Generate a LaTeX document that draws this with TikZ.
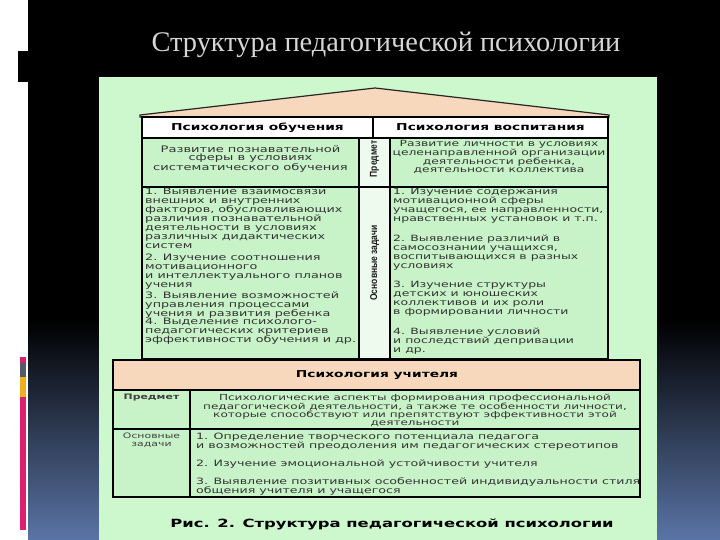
\documentclass[tikz,border=0pt]{standalone}
\usepackage{fontspec}
\setmainfont{DejaVu Sans}
\newfontfamily\titlefont{Liberation Serif}
\newfontfamily\cellfont[FakeStretch=1.45]{DejaVu Sans}
\newfontfamily\narrowfont[FakeStretch=0.85]{Liberation Sans}
\usetikzlibrary{positioning}

\definecolor{panelgreen}{RGB}{205,247,205}
\definecolor{cellgreen}{RGB}{200,242,200}
\definecolor{midwhite}{RGB}{238,250,238}
\definecolor{peach}{RGB}{248,216,188}
\definecolor{slatebg}{RGB}{90,116,165}
\definecolor{barpink}{RGB}{222,30,110}
\definecolor{bargray}{RGB}{80,92,105}
\definecolor{barorange}{RGB}{240,176,30}

\begin{document}
\begin{tikzpicture}[x=1pt, y=-1pt]
    \tikzset{
        cellbox/.style={draw=black, line width=1.6pt, line join=miter},
        hdtext/.style={font=\cellfont\bfseries\fontsize{9.5}{9.5}\selectfont, text=black, inner sep=0pt},
        subjtext/.style={font=\cellfont\fontsize{9}{8.5}\selectfont, text=black!80, align=center, inner sep=0pt},
        tasktext/.style={font=\cellfont\fontsize{8.8}{9}\selectfont, text=black!80, align=left, inner sep=0pt, anchor=north west},
        sidetext/.style={font=\narrowfont\bfseries\fontsize{10}{10}\selectfont, text=black!90, rotate=90, inner sep=0pt},
        rowlabel/.style={font=\cellfont\fontsize{7.5}{8.5}\selectfont, text=black!75, align=center, inner sep=0pt, anchor=north},
    }
    \useasboundingbox (0,0) rectangle (720,540);

    % slide background
    \fill[white] (0,0) rectangle (720,540);
    \fill[black] (28,0) rectangle (720,320);
    \shade[top color=black, bottom color=slatebg] (28,320) rectangle (720,540);
    \fill[black] (18,51) rectangle (28,82);
    \fill[barpink] (20,357) rectangle (26,363);
    \fill[bargray] (20,363) rectangle (26,377);
    \fill[barorange] (20,377) rectangle (26,397);
    \fill[barpink] (20,397) rectangle (26,530);

    \node[font=\titlefont\fontsize{28.4}{28.4}\selectfont, text=black!16, anchor=base, inner sep=0pt] (title) at (386,52) {Структура педагогической психологии};

    % green sheet
    \fill[panelgreen] (99,77) rectangle (657,540);

    % roof and upper table
    \filldraw[fill=peach, draw=black!85, line width=1.2pt] (140,117) -- (140,115) -- (375,88) -- (609,115) -- (609,117) -- cycle;
    \filldraw[cellbox, fill=white] (142,117) rectangle (373,138);
    \filldraw[cellbox, fill=white] (373,117) rectangle (608,138);
    \filldraw[cellbox, fill=cellgreen] (142,138) rectangle (359,187);
    \filldraw[cellbox, fill=midwhite] (359,138) rectangle (390,187);
    \filldraw[cellbox, fill=cellgreen] (390,138) rectangle (608,187);
    \filldraw[cellbox, fill=cellgreen] (142,187) rectangle (359,359);
    \filldraw[cellbox, fill=midwhite] (359,187) rectangle (390,359);
    \filldraw[cellbox, fill=cellgreen] (390,187) rectangle (608,359);

    \node[hdtext] (hlearn) at (257.5,127.5) {Психология обучения};
    \node[hdtext] (hraise) at (490.5,127.5) {Психология воспитания};

    \node[subjtext] (lsubj) at (250.5,159) {Развитие познавательной\\сферы в условиях\\систематического обучения};
    \node[subjtext, font=\cellfont\fontsize{8.5}{7.8}\selectfont] (rsubj) at (499,157) {Развитие личности в условиях\\целенаправленной организации\\деятельности ребенка,\\деятельности коллектива};

    \node[sidetext] (subj) at (374.5,159) {Предмет};
    \node[sidetext] (tasks) at (374.5,263) {Основные задачи};

    \node[tasktext] (ltask1) at (145,187.5) {1. Выявление взаимосвязи\\внешних и внутренних\\факторов, обусловливающих\\различия познавательной\\деятельности в условиях\\различных дидактических\\систем};
    \node[tasktext] (ltask2) at (145,253.5) {2. Изучение соотношения\\мотивационного\\и интеллектуального планов\\учения};
    \node[tasktext] (ltask3) at (145,291.5) {3. Выявление возможностей\\управления процессами\\учения и развития ребенка};
    \node[tasktext] (ltask4) at (145,317.5) {4. Выделение психолого-\\педагогических критериев\\эффективности обучения и др.};

    \tikzset{tasktext/.append style={font=\cellfont\fontsize{8.6}{9}\selectfont}}
    \node[tasktext] (rtask1) at (393,188.5) {1. Изучение содержания\\мотивационной сферы\\учащегося, ее направленности,\\нравственных установок и т.п.};
    \node[tasktext] (rtask2) at (393,234.5) {2. Выявление различий в\\самосознании учащихся,\\воспитывающихся в разных\\условиях};
    \node[tasktext] (rtask3) at (393,280.5) {3. Изучение структуры\\детских и юношеских\\коллективов и их роли\\в формировании личности};
    \node[tasktext] (rtask4) at (393,327.5) {4. Выявление условий\\и последствий депривации\\и др.};

    % lower table
    \filldraw[cellbox, fill=peach] (113,360) rectangle (640,390);
    \filldraw[cellbox, fill=cellgreen] (113,390) rectangle (190,429);
    \filldraw[cellbox, fill=cellgreen] (190,390) rectangle (640,429);
    \filldraw[cellbox, fill=cellgreen] (113,429) rectangle (190,497);
    \filldraw[cellbox, fill=cellgreen] (190,429) rectangle (640,497);

    \node[hdtext] (hteach) at (377,375.5) {Психология учителя};
    \node[rowlabel, font=\cellfont\bfseries\fontsize{7.5}{8.5}\selectfont] (tsubjlbl) at (151.5,394) {Предмет};
    \node[rowlabel] (ttasklbl) at (151.5,432.5) {Основные\\задачи};

    \node[subjtext, font=\cellfont\fontsize{8.3}{8}\selectfont, anchor=north] (tsubj) at (415,393.5) {Психологические аспекты формирования профессиональной\\педагогической деятельности, а также те особенности личности,\\которые способствуют или препятствуют эффективности этой\\деятельности};
    \tikzset{tasktext/.append style={font=\cellfont\fontsize{8.7}{9}\selectfont}}
    \node[tasktext] (ttask1) at (196,432.5) {1. Определение творческого потенциала педагога\\и возможностей преодоления им педагогических стереотипов};
    \node[tasktext] (ttask2) at (196,459.5) {2. Изучение эмоциональной устойчивости учителя};
    \node[tasktext] (ttask3) at (196,477.5) {3. Выявление позитивных особенностей индивидуальности стиля\\общения учителя и учащегося};

    \node[hdtext, font=\cellfont\bfseries\fontsize{11.3}{11.3}\selectfont, anchor=base] (caption) at (392,527) {Рис. 2. Структура педагогической психологии};
\end{tikzpicture}
\end{document}
